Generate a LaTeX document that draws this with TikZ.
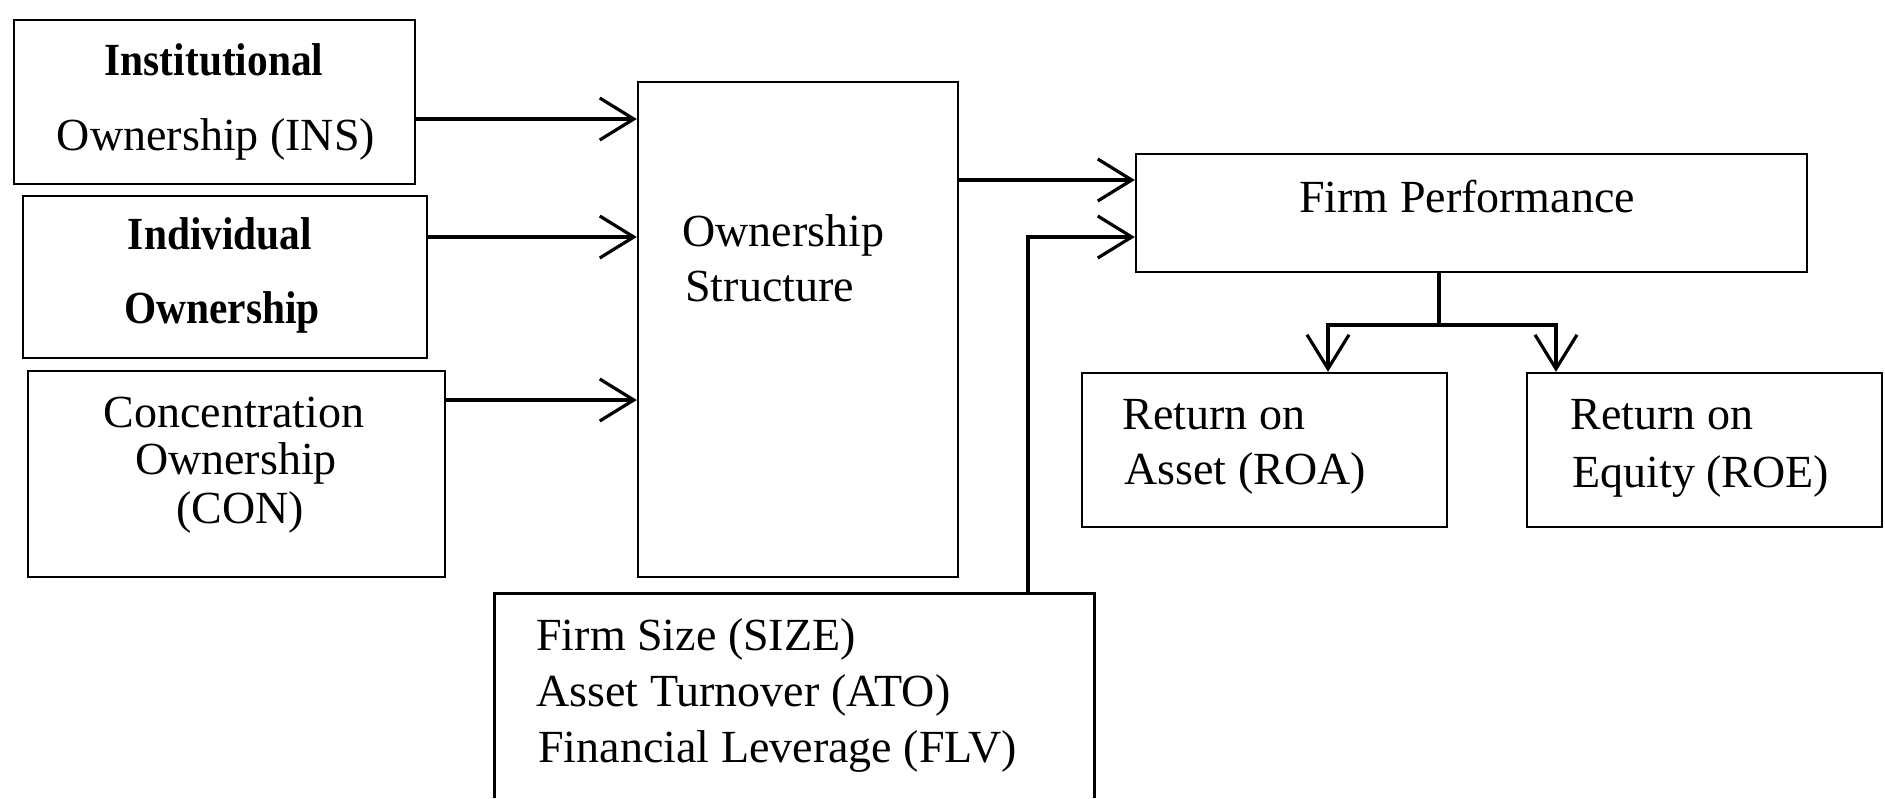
\documentclass[tikz,border=0pt]{standalone}
\usepackage{fontspec}
\setmainfont{Liberation Serif}
\newfontfamily\condbold{Liberation Serif}[FakeStretch=0.9]
\usetikzlibrary{arrows.meta,fit}
\begin{document}
\begin{tikzpicture}[x=0.5pt,y=-0.5pt,
  box/.style={draw,line width=1.2pt,inner sep=0pt},
  txt/.style={font=\fontsize{23}{27}\selectfont,inner sep=0pt},
  btxt/.style={font=\fontsize{23}{27}\condbold\bfseries,inner sep=0pt},
  arr/.style={line width=1.6pt,-{Straight Barb[length=17pt,width=21pt,line width=1.6pt]}},
  ln/.style={line width=1.6pt}]
\useasboundingbox (0,0) rectangle (1885,798);

% boxes
\node[box,fit={(14,20)(415,184)}] (ins) {};
\node[box,fit={(23,196)(427,358)}] (ind) {};
\node[box,fit={(28,371)(445,577)}] (con) {};
\node[box,fit={(638,82)(958,577)}] (os) {};
\node[inner sep=0pt,fit={(495,594)(1094,798)}] (ctrl) {};
\draw[line width=1.2pt] (ctrl.south west) -- (ctrl.north west) -- (ctrl.north east) -- (ctrl.south east);
\node[box,fit={(1136,154)(1807,272)}] (fp) {};
\node[box,fit={(1082,373)(1447,527)}] (roa) {};
\node[box,fit={(1527,373)(1882,527)}] (roe) {};

% texts
\node[btxt,anchor=base] (t1) at (214,75) {Institutional};
\node[txt,anchor=base] (t2) at (216,150) {Ownership (INS)};
\node[btxt,anchor=base] (t3) at (220,249) {Individual};
\node[btxt,anchor=base] (t4) at (222,323) {Ownership};
\node[txt,anchor=base] (t5) at (234,427) {Concentration};
\node[txt,anchor=base] (t6) at (236,474) {Ownership};
\node[txt,anchor=base] (t7) at (240,523) {(CON)};
\node[txt,anchor=base west] (t8) at (682,246) {Ownership};
\node[txt,anchor=base west] (t9) at (685,301) {Structure};
\node[txt,anchor=base west] (t10) at (536,650) {Firm Size (SIZE)};
\node[txt,anchor=base west] (t11) at (536,706) {Asset Turnover (ATO)};
\node[txt,anchor=base west] (t12) at (538,762) {Financial Leverage (FLV)};
\node[txt,anchor=base] (t13) at (1467,212) {Firm Performance};
\node[txt,anchor=base west] (t14) at (1122,429) {Return on};
\node[txt,anchor=base west] (t15) at (1124,484) {Asset (ROA)};
\node[txt,anchor=base west] (t16) at (1570,429) {Return on};
\node[txt,anchor=base west] (t17) at (1572,487) {Equity (ROE)};

% connectors
\draw[arr] (ins.east |- 0,119) -- (os.west |- 0,119);
\draw[arr] (ind.east |- 0,237) -- (os.west |- 0,237);
\draw[arr] (con.east |- 0,400) -- (os.west |- 0,400);
\draw[arr] (os.east |- 0,180) -- (fp.west |- 0,180);
\draw[arr] (ctrl.north -| 1028,0) |- (fp.west |- 0,237);
\coordinate (split) at (1439,325);
\coordinate (sl) at (1328,325);
\coordinate (sr) at (1556,325);
\draw[ln] (fp.south -| split) -- (split);
\draw[arr] (split) -| (roa.north -| sl);
\draw[arr] (split) -| (roe.north -| sr);
\end{tikzpicture}
\end{document}
